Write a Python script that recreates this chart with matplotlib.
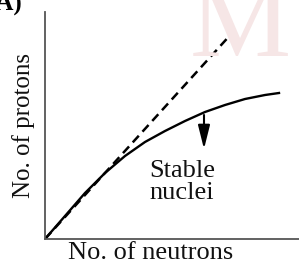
import matplotlib
matplotlib.use("Agg")
import matplotlib.pyplot as plt

plt.rcParams['font.family'] = ['Liberation Serif', 'DejaVu Serif']

# curves (arbitrary units, origin at axes corner)
dashed_x = [0, 188]
dashed_y = [0, 207]
stable_x = [0, 20, 40, 60, 80, 100, 120, 140, 160, 180, 200, 220, 234]
stable_y = [0, 23, 46, 66, 83, 97, 108, 118, 127, 134, 140, 144, 146]

W, H = 299, 266
fig = plt.figure(figsize=(W / 100, H / 100), dpi=100)
fig.patch.set_facecolor('white')

# faint watermark behind the chart
fig.text(240 / W, 1 - 28 / H, "M", fontsize=82, color='#f6e6e6',
         ha='center', va='center', zorder=0)

ax = fig.add_axes([45 / W, (H - 239) / H, (W - 45) / W, (239 - 12) / H])
ax.patch.set_alpha(0)
ax.set_xlim(0, 254)
ax.set_ylim(0, 227)

ln, = ax.plot(dashed_x, dashed_y, color='black', lw=1.8)
ln.set_dashes([3.6, 2.2])
ax.plot(stable_x, stable_y, color='black', lw=1.7)

ax.annotate('', xy=(159, 90), xytext=(159, 124),
            arrowprops=dict(arrowstyle='-|>,head_length=0.8,head_width=0.2',
                            lw=1.5, color='black', mutation_scale=18,
                            shrinkA=0, shrinkB=0))
ax.text(137, 57, "Stable\nnuclei", fontsize=19, ha='center', va='center',
        linespacing=1.0, color='#111111')

for side in ['top', 'right']:
    ax.spines[side].set_visible(False)
for side in ['left', 'bottom']:
    ax.spines[side].set_color('#555555')
    ax.spines[side].set_linewidth(1.3)
ax.set_xticks([])
ax.set_yticks([])
ax.set_xlabel("No. of neutrons", fontsize=19, color='#111111')
ax.xaxis.set_label_coords(0.417, -0.012)
ax.xaxis.label.set_va('top')
ax.set_ylabel("No. of protons", fontsize=18, labelpad=7, color='#111111')

fig.text(-12 / W, 1 + 7 / H, "(A)", fontsize=18, fontweight='bold',
         ha='left', va='top')

fig.savefig("out.png", dpi=100)
